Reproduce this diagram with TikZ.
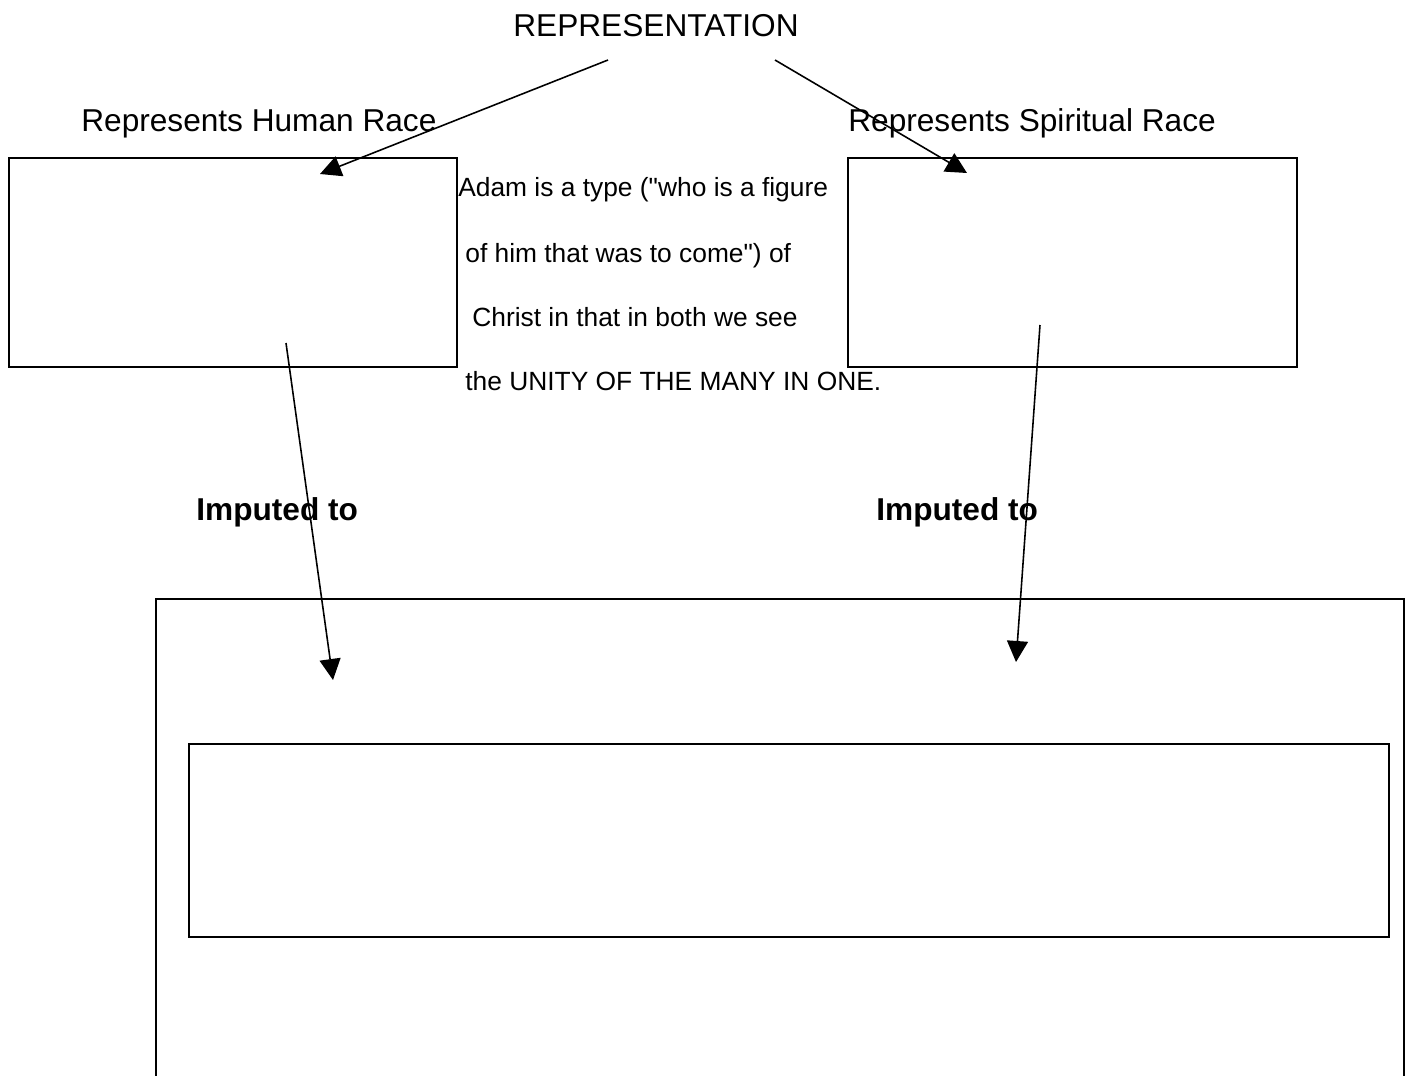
\documentclass[tikz,border=0pt]{standalone}
\usepackage{fontspec}
\setmainfont{Liberation Sans}
\usetikzlibrary{arrows.meta}
\begin{document}
\begin{tikzpicture}[x=0.02cm,y=-0.02cm]
    \tikzstyle{every node}+=[inner sep=0pt]
    \tikzstyle{bigtext}=[font=\fontsize{18}{22}\selectfont]
    \tikzstyle{smalltext}=[font=\fontsize{15}{18}\selectfont, anchor=base west]
    \tikzstyle{box}=[draw=black, line width=1pt, anchor=north west]
    \tikzstyle{pointer}=[black, line width=0.9pt, -{Triangle[length=0.42cm,width=0.42cm]}]
    \useasboundingbox (0,0) rectangle (1411,1076);
    \node [bigtext, anchor=base] (rep) at (656,36) {REPRESENTATION};
    \node [bigtext, anchor=base west] (human) at (81,131) {Represents Human Race};
    \node [bigtext, anchor=base west] (spirit) at (848,131) {Represents Spiritual Race};
    \node [box, minimum width=8.96cm, minimum height=4.18cm] (adam) at (8,157) {};
    \node [box, minimum width=8.98cm, minimum height=4.18cm] (christ) at (847,157) {};
    %\draw (656,290) node {note};
    \node [smalltext] (l1) at (458,196) {Adam is a type (\textquotedbl who is a figure};
    \node [smalltext] (l2) at (465,262) {of him that was to come\textquotedbl) of};
    \node [smalltext] (l3) at (472,326) {Christ in that in both we see};
    \node [smalltext] (l4) at (465,390) {the UNITY OF THE MANY IN ONE.};
    \node [bigtext, font=\fontsize{18}{22}\selectfont\bfseries, anchor=base west] (impl) at (196,520) {Imputed to};
    \node [bigtext, font=\fontsize{18}{22}\selectfont\bfseries, anchor=base west] (impr) at (876,520) {Imputed to};
    \draw [black, line width=1pt] (156,1076) -- (156,599) -- (1404,599) -- (1404,1076);
    \node [box, minimum width=24cm, minimum height=3.86cm] (inner) at (188,743) {};
    \coordinate (repl) at (608,60);
    \coordinate (repr) at (775,60);
    \coordinate (adamin) at (320,174);
    \coordinate (christin) at (967,173);
    \coordinate (adamout) at (286,343);
    \coordinate (christout) at (1040,325);
    \coordinate (racel) at (333,680);
    \coordinate (racer) at (1016,662);
    \draw [pointer] (repl) -- (adamin);
    \draw [pointer] (repr) -- (christin);
    \draw [pointer] (adamout) -- (racel);
    \draw [pointer] (christout) -- (racer);
\end{tikzpicture}
\end{document}
